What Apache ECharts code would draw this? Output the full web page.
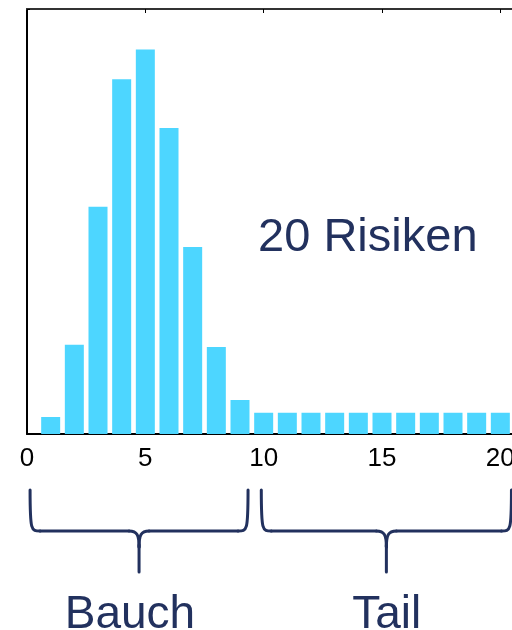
<!DOCTYPE html>
<html>
<head>
<meta charset="utf-8">
<script src="https://cdn.jsdelivr.net/npm/echarts@6/dist/echarts.min.js"></script>
<style>
  html, body { margin: 0; padding: 0; background: #fff; }
  #chart { width: 512px; height: 630px; }
</style>
</head>
<body>
<div id="chart"></div>
<script>
// Number of risks per outcome (x) and its probability in percent (y)
const outcomes = [1, 2, 3, 4, 5, 6, 7, 8, 9, 10, 11, 12, 13, 14, 15, 16, 17, 18, 19, 20];
const probabilities = [0.8, 4.2, 10.7, 16.7, 18.1, 14.4, 8.8, 4.1, 1.6,
                       1.0, 1.0, 1.0, 1.0, 1.0, 1.0, 1.0, 1.0, 1.0, 1.0, 1.0];
const xTicks = [0, 5, 10, 15, 20];
const titleText = '20 Risiken';
// Brace ranges on the x scale: [start, end, label, label position]
const braces = [
  [0.13, 9.34, 'Bauch', 4.35],
  [9.9, 20.47, 'Tail', 15.2]
];

const navy = '#22315e';
const font = 'Liberation Sans, Arial, sans-serif';
const chart = echarts.init(document.getElementById('chart'));

const barData = outcomes.map((x, i) => [x, probabilities[i]]);

chart.setOption({
  animation: false,
  grid: { left: 27, top: 9, width: 497, bottom: 196, outerBoundsMode: 'none', containLabel: false },
  xAxis: [
    {
      type: 'value', position: 'bottom', min: 0, max: 21, interval: 5,
      axisLine: { show: true, onZero: false, lineStyle: { color: '#000', width: 2 } },
      axisTick: { show: false },
      splitLine: { show: false },
      axisLabel: {
        fontSize: 26, color: '#000', fontFamily: font, margin: 12,
        showMaxLabel: false,
        formatter: v => (xTicks.indexOf(v) >= 0 ? String(v) : '')
      }
    },
    {
      type: 'value', position: 'top', min: 0, max: 21, interval: 5,
      axisLine: { show: true, onZero: false, lineStyle: { color: '#333', width: 2 } },
      axisTick: { show: true, inside: true, length: 4, lineStyle: { color: '#000' } },
      axisLabel: { show: false },
      splitLine: { show: false }
    }
  ],
  yAxis: {
    type: 'value', min: 0, max: 20, interval: 20,
    axisLine: { show: true, lineStyle: { color: '#000', width: 2 } },
    axisTick: { show: true, inside: true, length: 3, lineStyle: { color: '#000' } },
    axisLabel: { show: false },
    splitLine: { show: false }
  },
  series: [{
    type: 'bar',
    xAxisIndex: 0,
    data: barData,
    barWidth: 19,
    itemStyle: { color: '#4dd6ff' }
  }]
});

// Annotation layer: title text, curly braces and their labels
const lineStyle = { stroke: navy, lineWidth: 3, fill: null, lineCap: 'round' };

function braceParts(x0, x1, top, mid, tip) {
  const c = (x0 + x1) / 2;
  return [
    { type: 'bezierCurve', shape: { x1: x0, y1: top, cpx1: x0, cpy1: mid, x2: x0 + 10, y2: mid, cpx2: x0 + 1, cpy2: mid }, style: lineStyle },
    { type: 'line', shape: { x1: x0 + 10, y1: mid, x2: c - 10, y2: mid }, style: lineStyle },
    { type: 'bezierCurve', shape: { x1: c - 10, y1: mid, cpx1: c - 2, cpy1: mid, x2: c, y2: mid + 16, cpx2: c, cpy2: mid + 4 }, style: lineStyle },
    { type: 'bezierCurve', shape: { x1: c + 10, y1: mid, cpx1: c + 2, cpy1: mid, x2: c, y2: mid + 16, cpx2: c, cpy2: mid + 4 }, style: lineStyle },
    { type: 'line', shape: { x1: c, y1: mid + 14, x2: c, y2: tip }, style: lineStyle },
    { type: 'line', shape: { x1: c + 10, y1: mid, x2: x1 - 10, y2: mid }, style: lineStyle },
    { type: 'bezierCurve', shape: { x1: x1, y1: top, cpx1: x1, cpy1: mid, x2: x1 - 10, y2: mid, cpx2: x1 - 1, cpy2: mid }, style: lineStyle }
  ];
}

const graphics = [];
const tPos = chart.convertToPixel({ xAxisIndex: 0, yAxisIndex: 0 }, [14.4, 9.2]);
graphics.push({
  type: 'text', x: tPos[0], y: tPos[1],
  style: {
    text: titleText, fill: navy, fontSize: 47, fontFamily: font,
    align: 'center', verticalAlign: 'middle'
  }
});
braces.forEach(([a, b, label, lx]) => {
  const x0 = chart.convertToPixel({ xAxisIndex: 0 }, a);
  const x1 = chart.convertToPixel({ xAxisIndex: 0 }, b);
  braceParts(x0, x1, 490, 531, 572).forEach(p => graphics.push(p));
  graphics.push({
    type: 'text', x: chart.convertToPixel({ xAxisIndex: 0 }, lx), y: 615,
    style: {
      text: label, fill: navy, fontSize: 46, fontFamily: font,
      align: 'center', verticalAlign: 'middle'
    }
  });
});
chart.setOption({ graphic: graphics });
</script>
</body>
</html>
